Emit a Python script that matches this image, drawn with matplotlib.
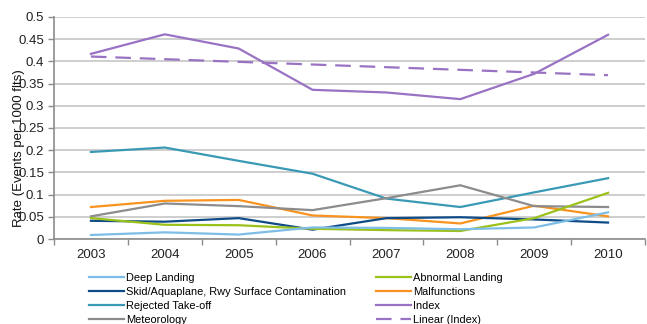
import matplotlib
matplotlib.use("Agg")
import matplotlib.pyplot as plt
from matplotlib.ticker import FixedLocator, FuncFormatter

plt.rcParams['font.family'] = ['Liberation Sans', 'DejaVu Sans']

years = ["2003", "2004", "2005", "2006", "2007", "2008", "2009", "2010"]

deep_landing = [0.009, 0.015, 0.010, 0.026, 0.025, 0.022, 0.026, 0.060]
abnormal_landing = [0.047, 0.032, 0.031, 0.023, 0.020, 0.018, 0.047, 0.104]
skid = [0.041, 0.039, 0.047, 0.021, 0.047, 0.049, 0.044, 0.037]
malfunctions = [0.072, 0.086, 0.088, 0.053, 0.047, 0.035, 0.075, 0.051]
rejected_takeoff = [0.196, 0.206, 0.176, 0.147, 0.091, 0.072, 0.105, 0.137]
index = [0.417, 0.461, 0.429, 0.336, 0.330, 0.315, 0.372, 0.460]
meteorology = [0.051, 0.080, 0.074, 0.065, 0.092, 0.121, 0.074, 0.072]
linear_index = [0.411, 0.405, 0.399, 0.393, 0.387, 0.381, 0.375, 0.369]

yticks = [0, 0.05, 0.1, 0.15, 0.2, 0.25, 0.3, 0.35, 0.4, 0.45, 0.5]

fig = plt.figure(figsize=(6.47, 3.24), dpi=100)
ax = fig.add_axes([54/647, 1-239/324, (645-54)/647, (239-17)/324])

x = list(range(len(years)))
lw = 1.6
series = [
    ("Deep Landing", deep_landing, "#7DBDE6"),
    ("Skid/Aquaplane, Rwy Surface Contamination", skid, "#0E4B87"),
    ("Rejected Take-off", rejected_takeoff, "#3A9AB5"),
    ("Meteorology", meteorology, "#8C8C8C"),
    ("Abnormal Landing", abnormal_landing, "#9BC11B"),
    ("Malfunctions", malfunctions, "#F7931E"),
    ("Index", index, "#9A72C4"),
]
draw_order = [6, 2, 5, 3, 1, 4, 0]
handles = {}
for i in draw_order:
    name, vals, col = series[i]
    h, = ax.plot(x, vals, color=col, lw=lw, label=name, zorder=3)
    handles[name] = h
hl, = ax.plot(x, linear_index, color="#9A72C4", lw=lw, ls=(0, (7, 4)), label="Linear (Index)", zorder=3)
handles["Linear (Index)"] = hl

ax.set_xlim(-0.5, len(years) - 0.5)
ax.set_ylim(0, 0.5)
ax.yaxis.set_major_locator(FixedLocator(yticks))
ax.yaxis.set_major_formatter(FuncFormatter(lambda v, p: "%g" % v))
ax.grid(axis='y', color="#C6C6C6", lw=1.2, zorder=0)
ax.set_axisbelow(True)

ax.xaxis.set_major_locator(FixedLocator([i - 0.5 for i in range(len(years) + 1)]))
ax.xaxis.set_major_formatter(FuncFormatter(lambda v, p: ""))
ax.xaxis.set_minor_locator(FixedLocator(x))
ax.set_xticklabels(years, minor=True)
ax.tick_params(axis='x', which='major', length=4, color="#8C8C8C", width=1)
ax.tick_params(axis='x', which='minor', length=0, pad=7, labelsize=9.5, labelcolor="#222222")
ax.tick_params(axis='y', length=4, color="#8C8C8C", width=1, labelsize=9.5, labelcolor="#222222", pad=3)

for s in ["top", "right"]:
    ax.spines[s].set_visible(False)
for s in ["left", "bottom"]:
    ax.spines[s].set_color("#8C8C8C")
    ax.spines[s].set_linewidth(1.2)

ax.set_ylabel("Rate (Events per 1000 flts)", fontsize=9.5, color="#111111")
ax.yaxis.set_label_coords(-0.049, 0.41)

col1 = ["Deep Landing", "Skid/Aquaplane, Rwy Surface Contamination", "Rejected Take-off", "Meteorology"]
col2 = ["Abnormal Landing", "Malfunctions", "Index", "Linear (Index)"]
common = dict(frameon=False, fontsize=7.9, handlelength=3.2, handletextpad=0.2,
              labelspacing=0.36, borderaxespad=0, borderpad=0, loc="upper left")
leg1 = fig.legend([handles[n] for n in col1], col1, bbox_to_anchor=(89/647, 1-273/324), **common)
leg2 = fig.legend([handles[n] for n in col2], col2, bbox_to_anchor=(376/647, 1-273/324), **common)

fig.savefig("out.png", dpi=100)
